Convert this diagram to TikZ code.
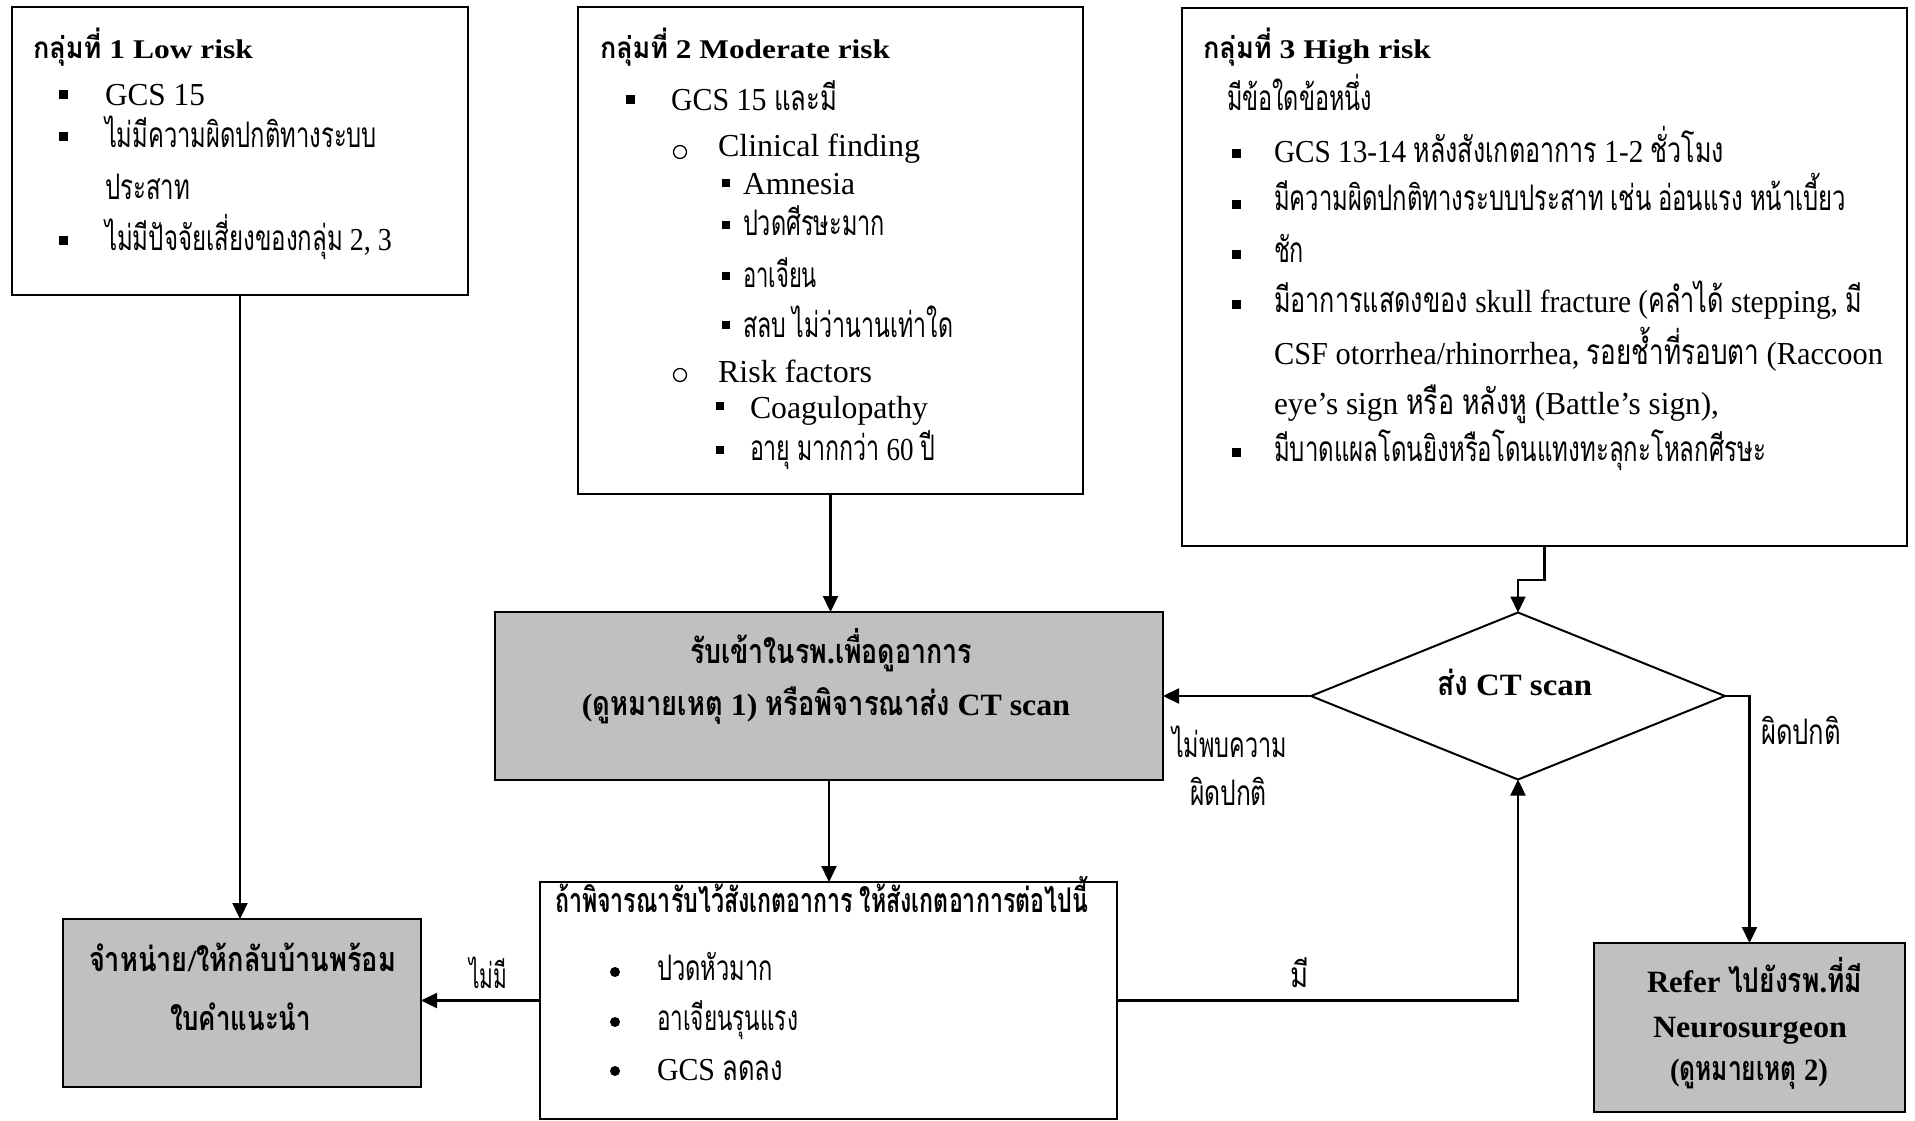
\documentclass[tikz,border=0pt]{standalone}
\usepackage{fontspec}
\usepackage{graphicx}
\setmainfont{Liberation Serif}
\newfontfamily\thaifont[Script=Thai,Scale=1.1,FakeStretch=0.78]{Loma}
\usetikzlibrary{arrows.meta,shapes.geometric}
\definecolor{boxgray}{RGB}{192,192,192}
% automatic font switch for Thai characters
\XeTeXinterchartokenstate=1
\newXeTeXintercharclass\ThaiCls
\count255="0E00
\loop\ifnum\count255<"0E80
  \XeTeXcharclass\count255=\ThaiCls
  \advance\count255 by 1
\repeat
\XeTeXinterchartoks 0 \ThaiCls = {\thaifont}
\XeTeXinterchartoks 4095 \ThaiCls = {\thaifont}
\XeTeXinterchartoks \ThaiCls 0 = {\rmfamily}
\XeTeXinterchartoks \ThaiCls 4095 = {\rmfamily}
\newcommand{\fsN}{\fontsize{32}{38}\selectfont}
\newcommand{\fsT}{\bfseries\fontsize{27}{32}\selectfont}
\newcommand{\fsB}{\bfseries\fontsize{31}{36}\selectfont}
\newcommand{\fitw}[2]{\resizebox{#1pt}{\height}{#2}}
\newcommand{\sqbul}[3]{\fill (#1-#3/2,#2-#3/2) rectangle ++(#3,#3);}
\begin{document}
\begin{tikzpicture}[x=1pt,y=-1pt,
  box/.style={draw, line width=2.3pt, inner sep=0pt, outer sep=0pt},
  greybox/.style={box, fill=boxgray},
  conn/.style={line width=2.3pt, -{Triangle[length=16pt,width=15pt]}},
  tl/.style={anchor=base west, inner sep=0pt, outer sep=0pt, font=\fsN},
  tc/.style={anchor=base, inner sep=0pt, outer sep=0pt, font=\fsN},
  ttl/.style={tl, font=\fsT},
  btl/.style={tl, font=\fsB},
  btc/.style={tc, font=\fsB}]
\fill[white] (0,0) rectangle (1915,1121);
\useasboundingbox (0,0) rectangle (1915,1121);

% ---------- boxes ----------
\node[box, minimum width=456pt, minimum height=288pt] (b1) at (240,151) {};
\node[box, minimum width=505pt, minimum height=487pt] (b2) at (830.5,250.5) {};
\node[box, minimum width=725pt, minimum height=538pt] (b3) at (1544.5,277) {};
\node[greybox, minimum width=668pt, minimum height=168pt] (adm) at (829,696) {};
\node[diamond, draw, line width=2pt, inner sep=0pt, outer sep=0pt,
      minimum width=414pt, minimum height=167pt] (dia) at (1518,696) {};
\node[box, minimum width=577pt, minimum height=237pt] (obs) at (828.5,1000.5) {};
\node[greybox, minimum width=358pt, minimum height=168pt] (dis) at (242,1003) {};
\node[greybox, minimum width=311pt, minimum height=169pt] (ref) at (1749.5,1027.5) {};

% ---------- box 1 ----------
\node[ttl] (t1) at (33,59) {\fitw{220}{กลุ่มที่ 1 Low risk}};
\node[tl] (a1) at (105,106) {\fitw{100}{GCS 15}};
\node[tl] (a2) at (105,148) {\fitw{272}{ไม่มีความผิดปกติทางระบบ}};
\node[tl] (a3) at (105,200) {\fitw{85}{ประสาท}};
\node[tl] (a4) at (105,250) {\fitw{287}{ไม่มีปัจจัยเสี่ยงของกลุ่ม 2, 3}};
\sqbul{63.5}{95}{9}
\sqbul{63.5}{137}{9}
\sqbul{63.5}{240}{9}

% ---------- box 2 ----------
\node[ttl] (t2) at (600,59) {\fitw{290}{กลุ่มที่ 2 Moderate risk}};
\node[tl] (c1) at (671,111) {\fitw{166}{GCS 15 และมี}};
\node[tl] (c2) at (718,157) {\fitw{202}{Clinical finding}};
\node[tl] (c3) at (743,194) {\fitw{112}{Amnesia}};
\node[tl] (c4) at (743,235) {\fitw{142}{ปวดศีรษะมาก}};
\node[tl] (c5) at (743,287) {\fitw{74}{อาเจียน}};
\node[tl] (c6) at (743,337) {\fitw{210}{สลบ ไม่ว่านานเท่าใด}};
\node[tl] (c7) at (718,382) {\fitw{154}{Risk factors}};
\node[tl] (c8) at (750,418) {\fitw{178}{Coagulopathy}};
\node[tl] (c9) at (750,460) {\fitw{185}{อายุ มากกว่า 60 ปี}};
\sqbul{630}{100}{9}
\draw[line width=1.3pt] (680,152) circle[radius=6.5];
\sqbul{726}{183}{8}
\sqbul{726}{225}{8}
\sqbul{726}{276}{8}
\sqbul{726}{325}{8}
\draw[line width=1.3pt] (680,375) circle[radius=6.5];
\sqbul{720}{406}{8}
\sqbul{720}{450}{8}

% ---------- box 3 ----------
\node[ttl] (t3) at (1203,59) {\fitw{228}{กลุ่มที่ 3 High risk}};
\node[tl] (e0) at (1227,111) {\fitw{145}{มีข้อใดข้อหนึ่ง}};
\node[tl] (e1) at (1274,162) {\fitw{450}{GCS 13-14 หลังสังเกตอาการ 1-2 ชั่วโมง}};
\node[tl] (e2) at (1274,211) {\fitw{572}{มีความผิดปกติทางระบบประสาท เช่น อ่อนแรง หน้าเบี้ยว}};
\node[tl] (e3) at (1274,262) {\fitw{30}{ชัก}};
\node[tl] (e4) at (1274,312) {\fitw{588}{มีอาการแสดงของ skull fracture (คลำได้ stepping, มี}};
\node[tl] (e5) at (1274,364) {\fitw{609}{CSF otorrhea/rhinorrhea, รอยช้ำที่รอบตา (Raccoon}};
\node[tl] (e6) at (1274,414) {\fitw{445}{eye’s sign หรือ หลังหู (Battle’s sign),}};
\node[tl] (e7) at (1274,461) {\fitw{492}{มีบาดแผลโดนยิงหรือโดนแทงทะลุกะโหลกศีรษะ}};
\sqbul{1236}{154}{9}
\sqbul{1236}{204}{9}
\sqbul{1236}{254}{9}
\sqbul{1236}{304}{9}
\sqbul{1236}{452}{9}

% ---------- admit box ----------
\node[btc] (g1) at (831,663) {\fitw{282}{รับเข้าในรพ.เพื่อดูอาการ}};
\node[btc] (g2) at (826,715) {\fitw{488}{(ดูหมายเหตุ 1) หรือพิจารณาส่ง CT scan}};

% ---------- diamond ----------
\node[btc] (dt) at (1514.5,695) {\fitw{155}{ส่ง CT scan}};
\node[tl] (l1) at (1172,757) {\fitw{115}{ไม่พบความ}};
\node[tl] (l2) at (1190,805) {\fitw{77}{ผิดปกติ}};
\node[tl] (l3) at (1761,744) {\fitw{80}{ผิดปกติ}};

% ---------- refer ----------
\node[btc] (r1) at (1754.5,992) {\fitw{215}{Refer ไปยังรพ.ที่มี}};
\node[btc] (r2) at (1750,1037) {\fitw{194}{Neurosurgeon}};
\node[btc] (r3) at (1749,1080) {\fitw{158}{(ดูหมายเหตุ 2)}};

% ---------- observation ----------
\node[btl] (o0) at (555,912) {\fitw{533}{ถ้าพิจารณารับไว้สังเกตอาการ ให้สังเกตอาการต่อไปนี้}};
\node[tl] (o1) at (657,980) {\fitw{116}{ปวดหัวมาก}};
\node[tl] (o2) at (657,1030) {\fitw{141}{อาเจียนรุนแรง}};
\node[tl] (o3) at (657,1080) {\fitw{126}{GCS ลดลง}};
\fill (615,972) circle[radius=5];
\fill (615,1022) circle[radius=5];
\fill (615,1071) circle[radius=5];

% ---------- discharge ----------
\node[btl] (d1) at (89,971) {\fitw{307}{จำหน่าย/ให้กลับบ้านพร้อม}};
\node[btl] (d2) at (170,1030) {\fitw{141}{ใบคำแนะนำ}};

% ---------- labels ----------
\node[tl] (ln) at (469,988) {\fitw{38}{ไม่มี}};
\node[tc] (ly) at (1300,987) {มี};

% ---------- connectors ----------
\draw[conn] (b1.south) -- (b1.south |- dis.north);
\draw[conn] (b2.south) -- (b2.south |- adm.north);
\draw[conn] (adm.south) -- (adm.south |- obs.north);
\draw[conn] (b3.south) -- ++(0,34) -| (dia.north);
\draw[conn] (dia.west) -- (adm.east |- dia.west);
\draw[conn] (dia.east) -| (ref.north);
\draw[conn] (obs.east) -| (dia.south);
\draw[conn] (obs.west) -- (dis.east |- obs.west);
\end{tikzpicture}
\end{document}
